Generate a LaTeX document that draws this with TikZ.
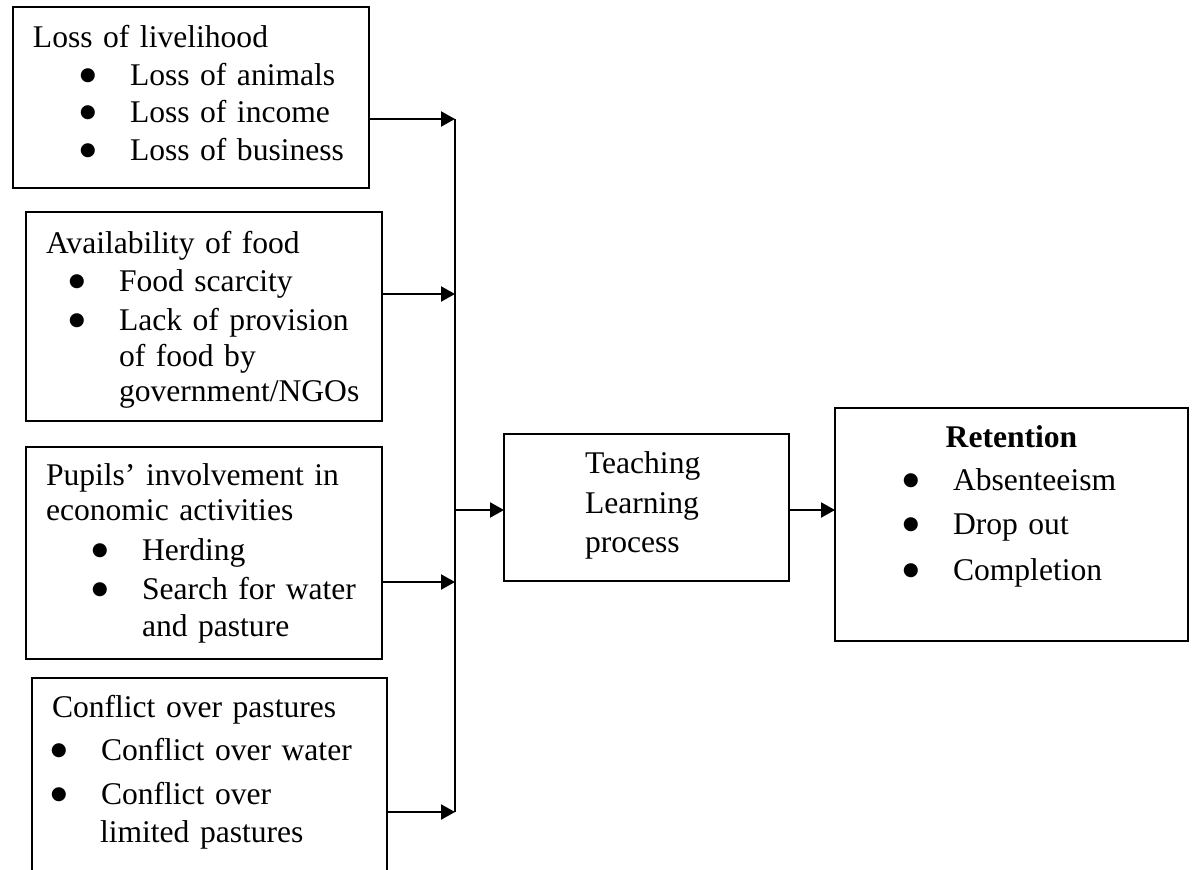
\documentclass[tikz,border=0pt]{standalone}
\usepackage{fontspec}
\setmainfont{Liberation Serif}
\newfontfamily\dotfont{DejaVu Sans}
\usetikzlibrary{arrows.meta,positioning}
\newlength\px
\setlength\px{0.38pt}
\newcommand{\bul}[1]{\hspace*{#1\px}\makebox[0pt]{\raisebox{5\px}{\dotfont\fontsize{7}{0}\selectfont ●}}\hspace*{42\px}}
\newcommand{\tophi}[1]{\rule{0pt}{#1\px}}
\newcommand{\botlo}[1]{\rule[-#1\px]{0pt}{#1\px}}
\tikzset{
    box/.style={
        draw,
        line width=0.75pt,
        anchor=north west,
        outer sep=0pt,
        inner xsep=20\px,
        inner ysep=0pt,
        align=left,
        font=\fontsize{12}{14.4}\selectfont
    },
    bus/.style={line width=0.75pt},
    arr/.style={line width=0.75pt, -{Triangle[length=5.3pt,width=5.7pt]}}
}

\begin{document}
\begin{tikzpicture}[x=0.38pt,y=-0.38pt]
  \useasboundingbox (0,0) rectangle (1193,869);
  \clip (0,0) rectangle (1193,869);

  \node[box, minimum width=356\px, minimum height=181\px, text width=316\px] (livelihood) at (13,7)
    {\tophi{23}Loss of livelihood\\
     \bul{55}Loss of animals\\
     \bul{55}Loss of income\\
     \bul{55}Loss of business\botlo{10}};

  \node[box, minimum width=356\px, minimum height=209\px, text width=316\px] (food) at (26,212)
    {\tophi{32}Availability of food\\
     \bul{31}Food scarcity\\[1\px]
     \bul{31}Lack of provision\\[-1\px]
     \hspace*{73\px}of food by\\[-3\px]
     \hspace*{73\px}government/NGOs\botlo{10}};

  \node[box, minimum width=356\px, minimum height=212\px, text width=316\px] (economic) at (26,447)
    {\tophi{26}Pupils’ involvement in\\[-3\px]
     economic activities\\[2\px]
     \bul{54}Herding\\[2\px]
     \bul{54}Search for water\\[-1\px]
     \hspace*{96\px}and pasture\botlo{10}};

  \node[box, minimum width=355\px, minimum height=202\px, text width=315\px] (conflict) at (32,678)
    {\tophi{23}Conflict over pastures\\[5\px]
     \bul{7}Conflict over water\\[7\px]
     \bul{7}Conflict over\\
     \hspace*{48\px}limited pastures\botlo{21}};

  \node[box, minimum width=285\px, minimum height=147\px, text width=123\px, inner xsep=81\px] (teaching) at (504,434)
    {\tophi{23}Teaching\\[2\px]
     Learning\\[2\px]
     process\botlo{12}};

  \node[box, minimum width=353\px, minimum height=233\px, text width=313\px] (retention) at (835,408)
    {\tophi{23}\makebox[\hsize]{\textbf{Retention}}\\[5\px]
     \bul{56}Absenteeism\\[7\px]
     \bul{56}Drop out\\[8\px]
     \bul{56}Completion\botlo{44}};

  % joining line
  \coordinate (j1) at (455,119);
  \coordinate (j2) at (455,294);
  \coordinate (jt) at (455,510);
  \coordinate (j3) at (455,582);
  \coordinate (j4) at (455,812);
  \draw[bus] (j1) -- (j4);

  \draw[arr] (livelihood.east |- j1) -- (j1);
  \draw[arr] (food.east |- j2) -- (j2);
  \draw[arr] (economic.east |- j3) -- (j3);
  \draw[arr] (conflict.east |- j4) -- (j4);
  \draw[arr] (jt) -- (teaching.west |- jt);
  \draw[arr] (teaching.east |- jt) -- (retention.west |- jt);

\end{tikzpicture}
\end{document}
